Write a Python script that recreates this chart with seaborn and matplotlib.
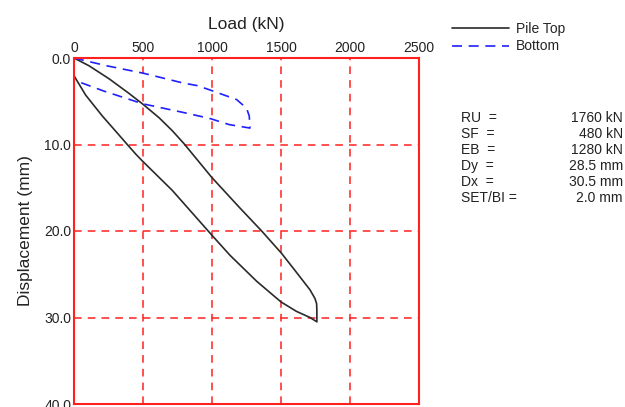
import matplotlib
matplotlib.use("Agg")
import matplotlib.pyplot as plt
import seaborn as sns
import pandas as pd

# ---- data ----
top_load = [0, 109, 254, 399, 500, 616, 712, 797, 998, 1200, 1360, 1505, 1613, 1710, 1746, 1758, 1760,
            1760, 1710, 1613, 1500, 1323, 1130, 1000, 712, 495, 447, 386, 326, 205, 85, 0]
top_disp = [0.0, 0.9, 2.4, 4.1, 5.35, 6.9, 8.4, 9.9, 13.8, 17.3, 20.0, 22.6, 24.8, 26.8, 27.8, 28.4, 29.2,
            30.5, 30.0, 29.3, 28.2, 25.8, 22.8, 20.5, 15.3, 11.9, 11.1, 10.0, 8.9, 6.7, 4.3, 2.05]

bot_load = [0, 237, 500, 793, 895, 986, 1178, 1250, 1270, 1275,
            1125, 986, 793, 500, 212, 0]
bot_disp = [0.0, 0.9, 1.75, 2.9, 3.2, 3.7, 4.8, 5.8, 6.7, 8.1,
            7.7, 7.0, 6.3, 5.3, 3.8, 2.55]

x_ticks = [0, 500, 1000, 1500, 2000, 2500]
y_ticks = [0, 10, 20, 30, 40]

info_labels = ["RU  =", "SF  =", "EB  =", "Dy  =", "Dx  =", "SET/BI ="]
info_values = ["1760 kN", "480 kN", "1280 kN", "28.5 mm", "30.5 mm", "2.0 mm"]

series_names = ["Pile Top", "Bottom"]

# ---- plotting ----
sns.set_theme(style="white")
plt.rcParams["font.family"] = ["Liberation Sans", "DejaVu Sans"]

df_top = pd.DataFrame({"load": top_load, "disp": top_disp})
df_bot = pd.DataFrame({"load": bot_load, "disp": bot_disp})

fig = plt.figure(figsize=(6.25, 4.07), dpi=100)
ax = fig.add_axes([74 / 625, 3 / 407, (419 - 74) / 625, (404 - 58) / 407])

sns.lineplot(data=df_top, x="load", y="disp", sort=False, estimator=None,
             color="#2a2a2a", linewidth=1.2, ax=ax, label=series_names[0])
sns.lineplot(data=df_bot, x="load", y="disp", sort=False, estimator=None,
             color="#2020ff", linewidth=1.2, linestyle=(0, (6, 4)), ax=ax,
             label=series_names[1])

ax.set_xlim(0, 2500)
ax.set_ylim(40, 0)
ax.set_xticks(x_ticks)
ax.set_yticks(y_ticks)
ax.set_yticklabels([f"{v:.1f}" for v in y_ticks])
ax.xaxis.tick_top()
ax.xaxis.set_label_position("top")
ax.tick_params(axis="both", length=0, labelsize=10, colors="#222222", pad=2)
ax.set_xlabel("Load (kN)", fontsize=12.5, labelpad=9, color="#222222")
ax.set_ylabel("Displacement (mm)", fontsize=12.5, labelpad=8, color="#222222")

for s in ax.spines.values():
    s.set_visible(True)
    s.set_color("#ff2020")
    s.set_linewidth(1.5)

ax.grid(True, color="#ff2020", linestyle=(0, (5, 4)), linewidth=1.1)
ax.set_axisbelow(True)

handles, labels = ax.get_legend_handles_labels()
ax.legend(handles, labels, loc="upper left", bbox_to_anchor=(452 / 625, 1 - 22 / 407),
          bbox_transform=fig.transFigure, frameon=False, fontsize=10,
          handlelength=4.1, handletextpad=0.5, labelspacing=0.25, borderpad=0,
          borderaxespad=0)

y0 = 118
for i, (lab, val) in enumerate(zip(info_labels, info_values)):
    yy = 1 - (y0 + i * 16) / 407
    fig.text(461 / 625, yy, lab, fontsize=10, va="center", ha="left", color="#222222")
    fig.text(623 / 625, yy, val, fontsize=10, va="center", ha="right", color="#222222")

fig.savefig("out.png", dpi=100)
